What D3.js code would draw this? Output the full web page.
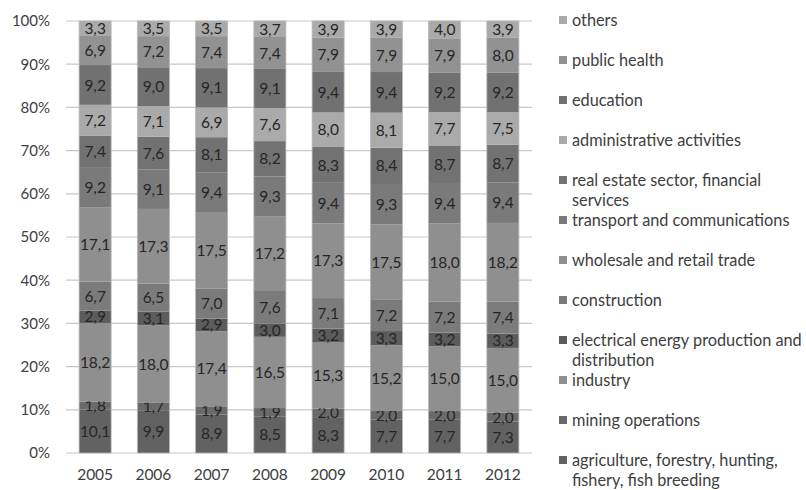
<!DOCTYPE html>
<html><head><meta charset="utf-8">
<script src="https://cdn.jsdelivr.net/npm/d3@7"></script>
<style>body{margin:0;background:#fff}svg{display:block;font-family:Lato,"Open Sans",sans-serif}</style>
</head><body><svg id="c" width="806" height="490"></svg>
<script>
const years = ["2005","2006","2007","2008","2009","2010","2011","2012"];
const sectors = ["agriculture, forestry, hunting, fishery, fish breeding","mining operations","industry","electrical energy production and distribution","construction","wholesale and retail trade","transport and communications","real estate sector, financial services","administrative activities","education","public health","others"];
const agriculture = [10.1,9.9,8.9,8.5,8.3,7.7,7.7,7.3];
const mining = [1.8,1.7,1.9,1.9,2.0,2.0,2.0,2.0];
const industry = [18.2,18.0,17.4,16.5,15.3,15.2,15.0,15.0];
const electrical = [2.9,3.1,2.9,3.0,3.2,3.3,3.2,3.3];
const construction = [6.7,6.5,7.0,7.6,7.1,7.2,7.2,7.4];
const wholesale = [17.1,17.3,17.5,17.2,17.3,17.5,18.0,18.2];
const transport = [9.2,9.1,9.4,9.3,9.4,9.3,9.4,9.4];
const realEstate = [7.4,7.6,8.1,8.2,8.3,8.4,8.7,8.7];
const administrative = [7.2,7.1,6.9,7.6,8.0,8.1,7.7,7.5];
const education = [9.2,9.0,9.1,9.1,9.4,9.4,9.2,9.2];
const publicHealth = [6.9,7.2,7.4,7.4,7.9,7.9,7.9,8.0];
const others = [3.3,3.5,3.5,3.7,3.9,3.9,4.0,3.9];
const yTicks = [0,0.1,0.2,0.3,0.4,0.5,0.6,0.7,0.8,0.9,1];
const colors = ["#626262","#6a6a6a","#8f8f8f","#5c5c5c","#7b7b7b","#8f8f8f","#7a7a7a","#727272","#aaaaaa","#717171","#929292","#aaaaaa"];
const legendLines = [["agriculture, forestry, hunting,","fishery, fish breeding"],["mining operations"],["industry"],["electrical energy production and","distribution"],["construction"],["wholesale and retail trade"],["transport and communications"],["real estate sector, financial","services"],["administrative activities"],["education"],["public health"],["others"]];

const series = [agriculture,mining,industry,electrical,construction,wholesale,transport,realEstate,administrative,education,publicHealth,others];
const rows = years.map((y,i)=>{const r={year:y}; sectors.forEach((s,k)=>r[s]=series[k][i]); return r;});
const stack = d3.stack().keys(sectors).offset(d3.stackOffsetExpand)(rows);

const svg = d3.select("#c");
const m = {l:66,r:274,t:21,b:37};
const W=806,H=490;
const x = d3.scaleBand().domain(years).range([m.l,W-m.r]).paddingInner(0.45).paddingOuter(0.225);
const y = d3.scaleLinear().domain([0,1]).range([H-m.b,m.t]);

// grid
svg.append("g").selectAll("line").data(yTicks).join("line")
  .attr("x1",m.l).attr("x2",W-m.r).attr("y1",d=>y(d)).attr("y2",d=>y(d))
  .attr("stroke","#c8c8c8").attr("stroke-width",1.2);

// y axis labels
const ya = svg.append("g").attr("transform",`translate(${m.l},0)`)
  .call(d3.axisLeft(y).tickValues(yTicks).tickFormat(d3.format(".0%")).tickSize(0).tickPadding(16));
ya.select(".domain").remove();
ya.selectAll("text").attr("font-size",15).attr("fill","#404040").attr("font-family","Lato,'Open Sans',sans-serif");

// x axis labels
const xa = svg.append("g").attr("transform",`translate(0,${H-m.b})`)
  .call(d3.axisBottom(x).tickSize(0).tickPadding(16));
xa.select(".domain").remove();
xa.selectAll("text").attr("font-size",15.5).attr("fill","#404040").attr("font-family","Lato,'Open Sans',sans-serif");

// bars
const g = svg.append("g");
stack.forEach((s,k)=>{
  const gg = g.append("g");
  gg.selectAll("rect").data(s).join("rect")
    .attr("x",d=>x(d.data.year)).attr("width",x.bandwidth())
    .attr("y",d=>y(d[1])).attr("height",d=>y(d[0])-y(d[1]))
    .attr("fill",colors[k]);
  gg.selectAll("text").data(s).join("text")
    .attr("x",d=>x(d.data.year)+x.bandwidth()/2)
    .attr("y",d=>(y(d[0])+y(d[1]))/2)
    .attr("dy","0.36em").attr("text-anchor","middle")
    .attr("font-size",15.5).attr("fill","#262626")
    .text(d=>d3.format(".1f")(d.data[sectors[k]]).replace(".",","));
});
// light bar edges
g.selectAll("rect.edge").data(years).join("rect").attr("class","edge")
  .attr("x",d=>x(d)).attr("width",x.bandwidth()).attr("y",y(1)).attr("height",y(0)-y(1))
  .attr("fill","none").attr("stroke","#b8b8b8").attr("stroke-width",0.8);

// legend
const lg = svg.append("g");
const order = d3.range(sectors.length).reverse();
order.forEach((k,i)=>{
  const yy = 20 + i*40;
  lg.append("rect").attr("x",559).attr("y",yy-4).attr("width",8).attr("height",8).attr("fill",colors[k]);
  legendLines[k].forEach((ln,j)=>{
    lg.append("text").attr("x",572).attr("y",yy+j*20).attr("dy","0.36em")
      .attr("font-size",16.3).attr("fill","#404040").text(ln);
  });
});
</script></body></html>
